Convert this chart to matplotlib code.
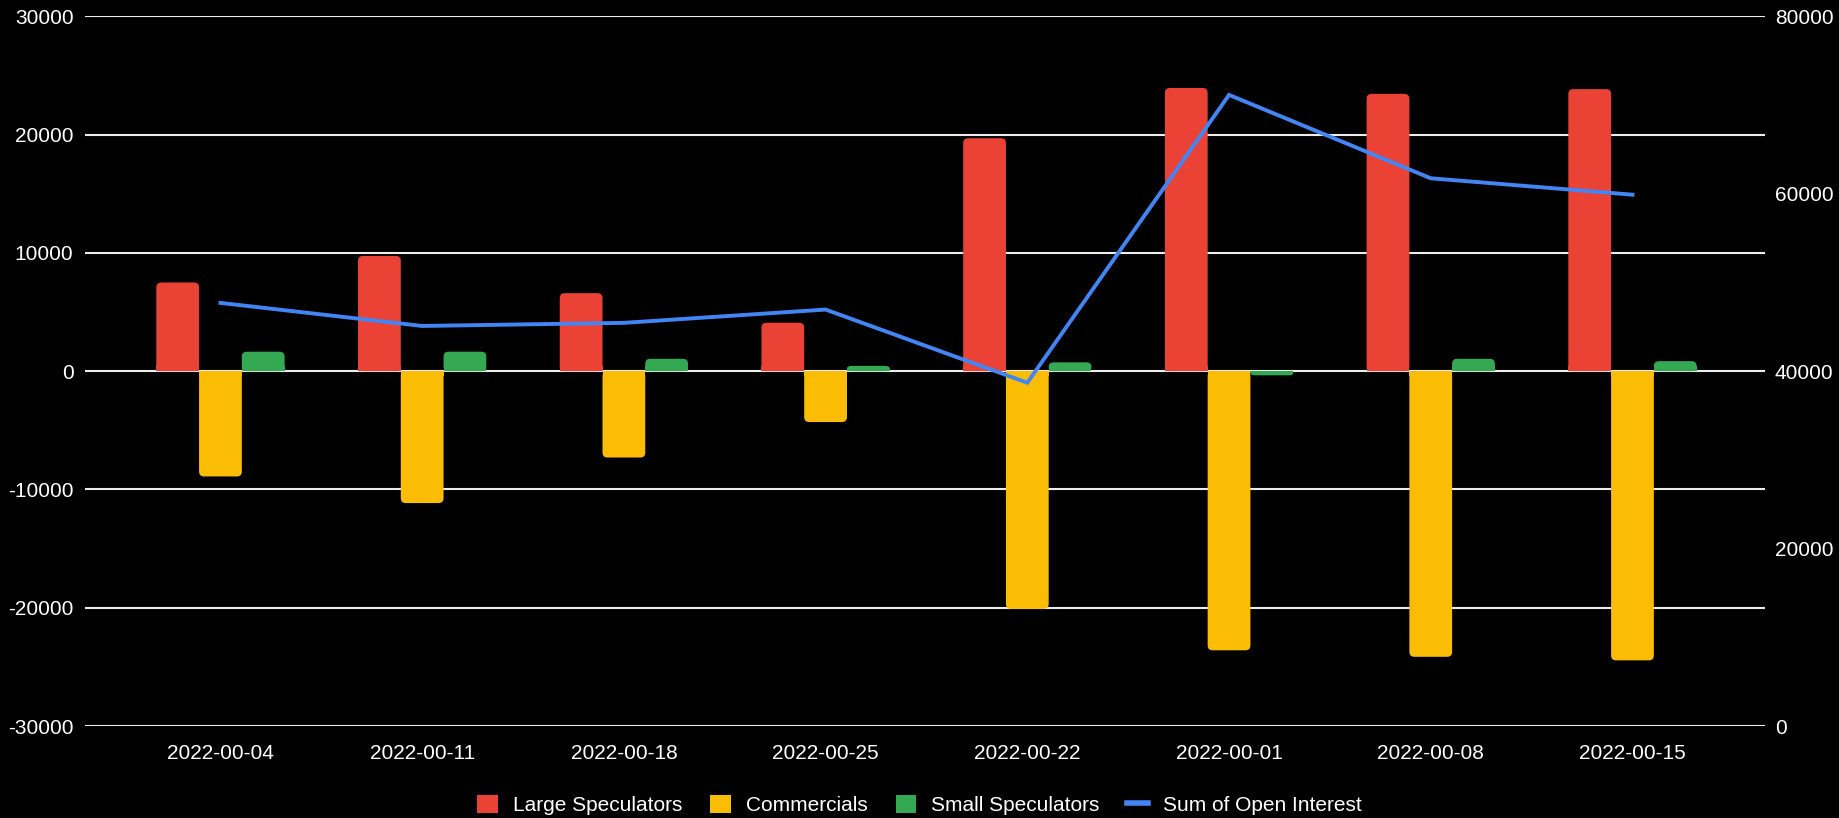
import matplotlib
matplotlib.use("Agg")
import matplotlib.pyplot as plt
from matplotlib.patches import FancyBboxPatch, Rectangle, Patch
from matplotlib.lines import Line2D

plt.rcParams['font.family'] = ['Liberation Sans', 'DejaVu Sans']
plt.rcParams['axes.unicode_minus'] = False

# data
dates = ["2022-00-04", "2022-00-11", "2022-00-18", "2022-00-25",
         "2022-00-22", "2022-00-01", "2022-00-08", "2022-00-15"]
large_specs = [7500, 9750, 6600, 4100, 19700, 23950, 23450, 23850]
commercials = [-8900, -11150, -7300, -4300, -20100, -23600, -24150, -24450]
small_specs = [1650, 1650, 1050, 450, 750, -350, 1050, 850]
open_interest = [47700, 45100, 45450, 46950, 38700, 71150, 61750, 59900]

colors = {"large": "#EA4335", "comm": "#FBBC04", "small": "#34A853", "oi": "#4285F4"}

W, H = 1839, 818
fig = plt.figure(figsize=(W / 100, H / 100), dpi=100, facecolor="black")
ax = fig.add_axes([84.5 / W, 1 - 726 / H, (1765 - 84.5) / W, (726 - 16.4) / H])
ax.set_facecolor("black")

xlo, xhi = -0.674, 7.657
ylo, yhi = -30000, 30000
ax.set_xlim(xlo, xhi)
ax.set_ylim(ylo, yhi)

# pixel -> data factors for the rounded corners
ax_w_px = 1765 - 84.5
ax_h_px = 726 - 16.4
rx = 5 / (ax_w_px / (xhi - xlo))
ry = 5 / (ax_h_px / (yhi - ylo))

bw = 0.212


def rounded_bar(x, h, color):
    left = x - bw / 2
    if h == 0:
        return
    r_y = min(ry, abs(h) / 2)
    r_x = min(rx, bw / 2)
    bottom = min(0, h)
    box = FancyBboxPatch((left, bottom), bw, abs(h),
                         boxstyle=f"round,pad=0,rounding_size={r_x}",
                         mutation_aspect=r_y / r_x,
                         fc=color, ec="none", zorder=3)
    ax.add_patch(box)
    # square off the base at zero
    sq = Rectangle((left, 0), bw, (r_y if h > 0 else -r_y), fc=color, ec="none", zorder=3)
    ax.add_patch(sq)


for i in range(len(dates)):
    rounded_bar(i - bw, large_specs[i], colors["large"])
    rounded_bar(i, commercials[i], colors["comm"])
    rounded_bar(i + bw, small_specs[i], colors["small"])

ax.set_yticks(range(-30000, 30001, 10000))
ax.set_xticks(range(len(dates)))
ax.set_xticklabels(dates)
ax.grid(axis="y", color="#ececec", linewidth=1.5, zorder=1)
ax.set_axisbelow(True)
for s in ax.spines.values():
    s.set_visible(False)
ax.tick_params(axis="y", length=0, pad=8, labelsize=15, colors="white")
ax.tick_params(axis="x", length=0, pad=13, labelsize=15, colors="white")

ax2 = ax.twinx()
ax2.set_ylim(0, 80000)
ax2.set_yticks(range(0, 80001, 20000))
ax2.plot(range(len(dates)), open_interest, color=colors["oi"], linewidth=2.8, zorder=5,
         solid_joinstyle="miter")
for s in ax2.spines.values():
    s.set_visible(False)
ax2.tick_params(axis="y", length=0, pad=7, labelsize=15, colors="white")

handles = [Patch(fc=colors["large"], ec="none"), Patch(fc=colors["comm"], ec="none"),
           Patch(fc=colors["small"], ec="none"), Line2D([], [], color=colors["oi"], linewidth=4)]
labels = ["Large Speculators", "Commercials", "Small Speculators", "Sum of Open Interest"]
fig.legend(handles, labels, loc="center", bbox_to_anchor=(0.5, 1 - 805 / H), ncol=4,
           frameon=False, labelcolor="white", fontsize=15, handlelength=1.0, handleheight=1.0,
           handletextpad=0.7, columnspacing=1.35)

fig.savefig("out.png", dpi=100, facecolor="black")
